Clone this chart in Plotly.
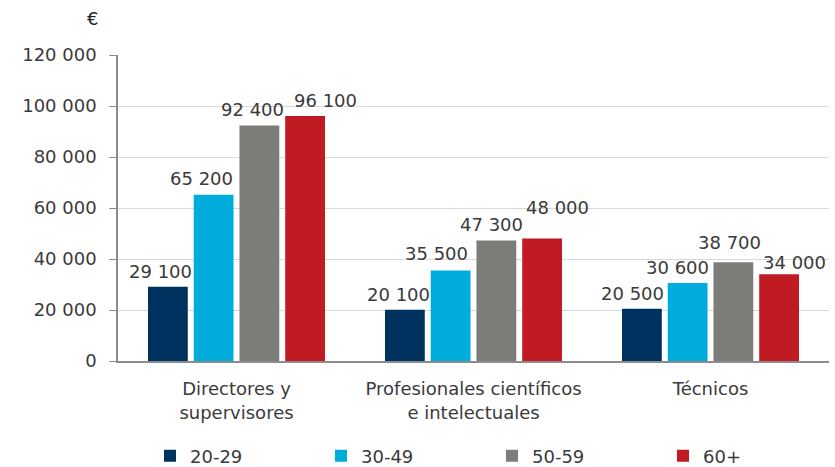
import plotly.graph_objects as go

categories = ["Directores y<br>supervisores", "Profesionales científicos<br>e intelectuales", "Técnicos"]
age_groups = ["20-29", "30-49", "50-59", "60+"]
values = {
    "20-29": [29100, 20100, 20500],
    "30-49": [65200, 35500, 30600],
    "50-59": [92400, 47300, 38700],
    "60+": [96100, 48000, 34000],
}
tick_vals = [0, 20000, 40000, 60000, 80000, 100000, 120000]

colors = {"20-29": "#00325f", "30-49": "#00acdc", "50-59": "#7c7d78", "60+": "#c01b23"}
FONT = "DejaVu Sans"
TXT = "#3a3a3a"
BARGAP = 0.228
GROUPGAP = 0.13

# pixel nudges for the value labels (the original staggers them a bit)
label_dx = {"20-29": [-7, -6, -9], "30-49": [-12, -14, -10], "50-59": [-7, -5, -4], "60+": [20, 15, 15]}
label_dy = {"20-29": [0, 0, 0], "30-49": [1, 1, 0], "50-59": [0, 0, 4], "60+": [0, 16, -4]}


def fmt(v):
    return f"{v:,}".replace(",", " ")


fig = go.Figure()
annotations = []
slot = (1 - BARGAP) / len(age_groups)
for i, g in enumerate(age_groups):
    fig.add_trace(go.Bar(
        x=categories, y=values[g], name=g,
        marker=dict(color=colors[g], line=dict(width=0)),
    ))
    for j, v in enumerate(values[g]):
        annotations.append(dict(
            x=j + (i - 1.5) * slot, y=v, xref="x", yref="y",
            text=fmt(v), showarrow=False, xanchor="center", yanchor="bottom",
            xshift=label_dx[g][j], yshift=3 + label_dy[g][j],
            font=dict(family=FONT, size=18, color=TXT),
        ))

# euro sign above the y axis
annotations.append(dict(text="€", xref="x domain", yref="y domain", x=-0.036, y=1.12,
                        xanchor="center", yanchor="middle", showarrow=False,
                        font=dict(family=FONT, size=18, color="#222")))

fig.update_layout(
    width=835, height=467,
    margin=dict(l=118, r=6, t=55, b=106, autoexpand=False),
    paper_bgcolor="white", plot_bgcolor="white",
    barmode="group", bargap=BARGAP, bargroupgap=GROUPGAP,
    font=dict(family=FONT, size=18, color=TXT),
    showlegend=True,
    legend=dict(orientation="h", x=0.045, xanchor="left", y=-0.25, yanchor="top",
                entrywidth=126, entrywidthmode="pixels", itemclick=False, itemwidth=30,
                bgcolor="rgba(0,0,0,0)",
                font=dict(family=FONT, size=18, color=TXT), traceorder="normal"),
    annotations=annotations,
)
fig.update_yaxes(
    range=[0, 120000], tickvals=tick_vals, ticktext=[fmt(v) for v in tick_vals],
    showgrid=True, gridcolor="#d9d9d9", gridwidth=1,
    showline=True, linecolor="#8c8c8c", linewidth=1.5,
    ticks="outside", ticklen=7, tickcolor="#8c8c8c", zeroline=False,
    ticklabelstandoff=9, automargin=False,
)
fig.update_xaxes(showline=True, linecolor="#8c8c8c", linewidth=1.5, ticks="", showgrid=False,
                 ticklabelstandoff=11, automargin=False)

fig.write_html("out.html", config={"displayModeBar": False},
               post_script="document.body.style.margin='0';")
